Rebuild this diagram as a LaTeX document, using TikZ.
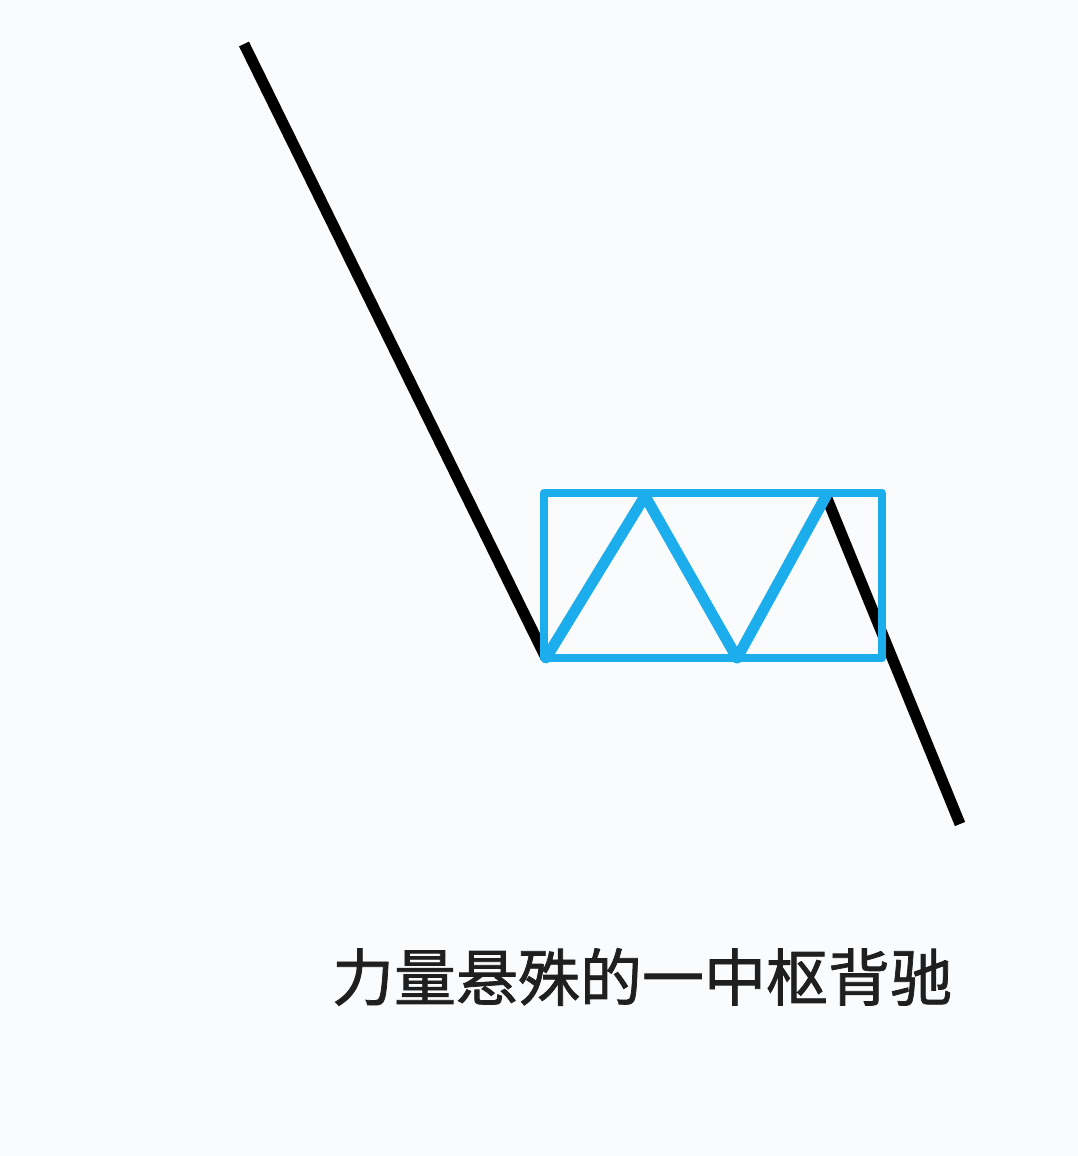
\documentclass[tikz,border=0pt]{standalone}
\usepackage{fontspec}
\newfontfamily\cjk[FakeBold=1.2]{Noto Sans CJK SC}
\definecolor{bg}{RGB}{250,251,253}
\definecolor{zsblue}{RGB}{28,174,236}
\begin{document}
\begin{tikzpicture}[x=1pt,y=-1pt,
  trend/.style={line width=11pt,black,line cap=butt},
  boxline/.style={line width=8.5pt,zsblue,line join=round},
  zig/.style={line width=11pt,zsblue,line join=round,line cap=round}]
\fill[bg] (0,0) rectangle (1078,1156);
\useasboundingbox (0,0) rectangle (1078,1156);
\coordinate (t0) at (244,44);
\coordinate (z0) at (546,658);
\coordinate (z1) at (645,496);
\coordinate (z2) at (737,658);
\coordinate (z3) at (826,496);
\coordinate (t1) at (960,824);
\draw[trend] (t0) -- (z0);
\draw[trend] (z3) -- (t1);
\draw[boxline] (544,493) rectangle (882,658);
\draw[zig] (z0) -- (z1) -- (z2) -- (z3);
\node[inner sep=0pt,font=\cjk\fontsize{62}{70}\selectfont,text=black!88] (cap) at (642,977) {力量悬殊的一中枢背驰};
\end{tikzpicture}
\end{document}
